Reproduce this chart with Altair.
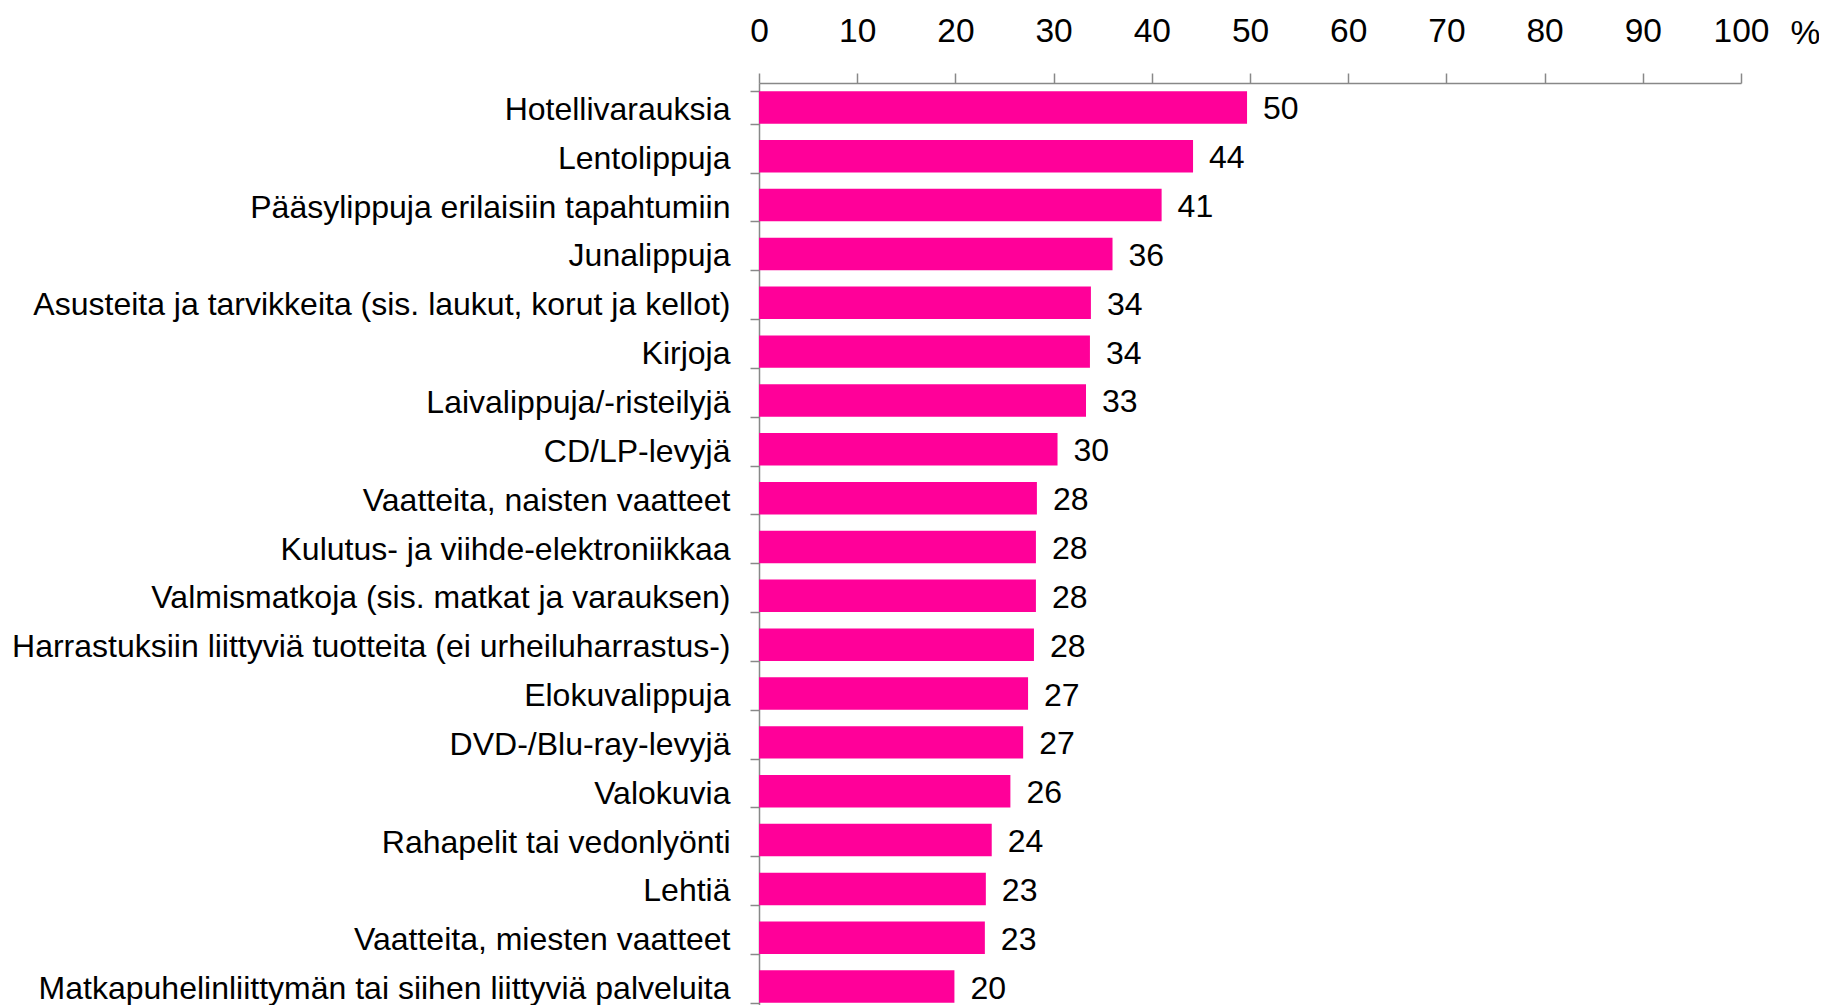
import altair as alt
import pandas as pd

categories = [
    "Hotellivarauksia",
    "Lentolippuja",
    "Pääsylippuja erilaisiin tapahtumiin",
    "Junalippuja",
    "Asusteita ja tarvikkeita (sis. laukut, korut ja kellot)",
    "Kirjoja",
    "Laivalippuja/-risteilyjä",
    "CD/LP-levyjä",
    "Vaatteita, naisten vaatteet",
    "Kulutus- ja viihde-elektroniikkaa",
    "Valmismatkoja (sis. matkat ja varauksen)",
    "Harrastuksiin liittyviä tuotteita (ei urheiluharrastus-)",
    "Elokuvalippuja",
    "DVD-/Blu-ray-levyjä",
    "Valokuvia",
    "Rahapelit tai vedonlyönti",
    "Lehtiä",
    "Vaatteita, miesten vaatteet",
    "Matkapuhelinliittymän tai siihen liittyviä palveluita",
]
values = [49.7, 44.2, 41.0, 36.0, 33.8, 33.7, 33.3, 30.4, 28.3, 28.2, 28.2, 28.0,
          27.4, 26.9, 25.6, 23.7, 23.1, 23.0, 19.9]
x_ticks = [0, 10, 20, 30, 40, 50, 60, 70, 80, 90, 100]

df = pd.DataFrame({"cat": categories, "val": values})

FONT = "Liberation Sans"
PINK = "#FF0099"
GRAY = "#888888"

y_enc = alt.Y(
    "cat:N",
    sort=None,
    scale=alt.Scale(paddingInner=0.335, paddingOuter=0.1675),
    axis=alt.Axis(
        title=None,
        grid=False,
        labelFont=FONT,
        labelFontSize=32,
        labelColor="black",
        labelPadding=20,
        labelOffset=2,
        labelLimit=1000,
        tickSize=9,
        tickColor=GRAY,
        tickWidth=1.5,
        tickBand="extent",
        domainColor=GRAY,
        domainWidth=1.5,
    ),
)

x_enc = alt.X(
    "val:Q",
    scale=alt.Scale(domain=[0, 100], nice=False, zero=True),
    axis=alt.Axis(
        orient="top",
        values=x_ticks,
        grid=False,
        gridOpacity=0,
        title="%",
        titleFont=FONT,
        titleFontSize=33.5,
        titleFontWeight="normal",
        titleColor="black",
        titleAngle=0,
        titleAlign="center",
        titleBaseline="alphabetic",
        titleX=1046,
        titleY=-40,
        labelFont=FONT,
        labelFontSize=33.5,
        labelColor="black",
        labelPadding=25,
        labelFlush=False,
        labelOverlap=False,
        tickSize=10,
        tickColor=GRAY,
        tickWidth=1.5,
        domainColor=GRAY,
        domainWidth=1.5,
    ),
)

bars = alt.Chart(df).mark_bar(color=PINK).encode(x=x_enc, y=y_enc)
labels = alt.Chart(df).mark_text(
    align="left", baseline="middle", dx=16, dy=2, font=FONT, fontSize=32, color="black"
).encode(
    x=alt.X("val:Q"),
    y=alt.Y("cat:N", sort=None),
    text=alt.Text("val:Q", format=".0f"),
)

chart = (
    alt.layer(bars, labels)
    .properties(
        width=982,
        height=928,
        autosize=alt.AutoSizeParams(type="none"),
        padding={"left": 751, "top": 75, "right": 78, "bottom": 10},
        view=alt.ViewBackground(stroke=None, strokeWidth=0, strokeOpacity=0),
    )
    .configure_view(stroke=None, strokeWidth=0, strokeOpacity=0)
    .configure_axis(grid=False, gridOpacity=0)
    .configure(background="white")
)

chart.save("out.html", embed_options={"renderer": "svg", "actions": False})
